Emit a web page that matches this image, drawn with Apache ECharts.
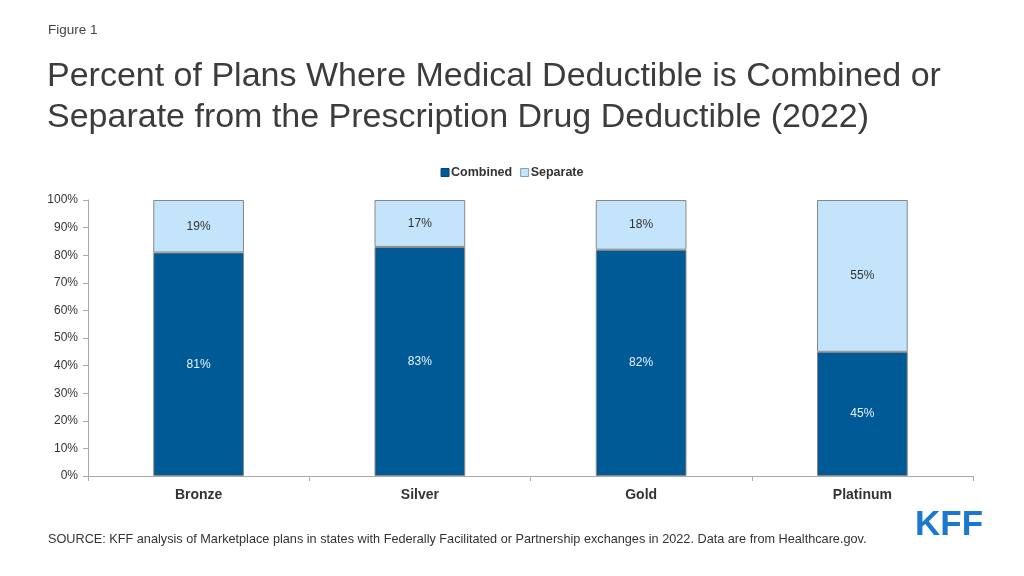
<!DOCTYPE html>
<html>
<head>
<meta charset="utf-8">
<script src="https://cdn.jsdelivr.net/npm/echarts@6/dist/echarts.min.js"></script>
<style>html,body{margin:0;padding:0;background:#fff;}#c{width:1024px;height:576px;}</style>
</head>
<body>
<div id="c"></div>
<script>
const categories = ['Bronze', 'Silver', 'Gold', 'Platinum'];
const combined = [81, 83, 82, 45];
const separate = [19, 17, 18, 55];
const yTicks = [0, 10, 20, 30, 40, 50, 60, 70, 80, 90, 100];

const FONT = '"Liberation Sans", Arial, Helvetica, sans-serif';
const chart = echarts.init(document.getElementById('c'));
chart.setOption({
  animation: false,
  textStyle: { fontFamily: FONT },
  graphic: [
    { type: 'text', left: 48, top: 23, style: { text: 'Figure 1', font: '13.5px ' + FONT, fill: '#444' } },
    { type: 'text', left: 47, top: 56, style: { text: 'Percent of Plans Where Medical Deductible is Combined or\nSeparate from the Prescription Drug Deductible (2022)', font: '34px ' + FONT, fill: '#3c3c3c', lineHeight: 41 } },
    { type: 'text', left: 48, top: 533, style: { text: 'SOURCE: KFF analysis of Marketplace plans in states with Federally Facilitated or Partnership exchanges in 2022. Data are from Healthcare.gov.', font: '12.7px ' + FONT, fill: '#333' } },
    { type: 'text', left: 915, top: 508, style: { text: 'KFF', font: 'bold 35px ' + FONT, fill: '#1a78cf' } }
  ],
  legend: {
    top: 161, left: 'center',
    itemWidth: 8, itemHeight: 8, itemGap: 8,
    icon: 'rect',
    textStyle: { fontSize: 12.5, fontWeight: 'bold', color: '#333', padding: [0, 0, 0, -3] },
    data: [
      { name: 'Combined', itemStyle: { borderColor: '#00447a', borderWidth: 1 } },
      { name: 'Separate', itemStyle: { borderColor: '#7f9fb8', borderWidth: 1 } }
    ]
  },
  grid: { left: 88, right: 51, top: 200, bottom: 100 },
  xAxis: {
    type: 'category', data: categories,
    axisLine: { lineStyle: { color: '#aaa' } },
    axisTick: { show: true, length: 5, lineStyle: { color: '#aaa' } },
    axisLabel: { fontSize: 14, fontWeight: 'bold', color: '#333', margin: 12 }
  },
  yAxis: {
    type: 'value', min: 0, max: 100, interval: 10,
    splitLine: { show: false },
    axisLine: { show: true, lineStyle: { color: '#aaa' } },
    axisTick: { show: true, length: 5, lineStyle: { color: '#aaa' } },
    axisLabel: { fontSize: 12, color: '#333', margin: 10, formatter: v => yTicks.includes(v) ? v + '%' : '' }
  },
  series: [
    {
      name: 'Combined', type: 'bar', stack: 's', data: combined, barWidth: '41%',
      itemStyle: { color: '#005a96', borderColor: '#888', borderWidth: 1 },
      label: { show: true, position: 'inside', formatter: '{c}%', color: '#e6f3ff', fontSize: 12 }
    },
    {
      name: 'Separate', type: 'bar', stack: 's', data: separate, barWidth: '41%',
      itemStyle: { color: '#c4e4fb', borderColor: '#888', borderWidth: 1 },
      label: { show: true, position: 'inside', formatter: '{c}%', color: '#333', fontSize: 12 }
    }
  ]
});
</script>
</body>
</html>
